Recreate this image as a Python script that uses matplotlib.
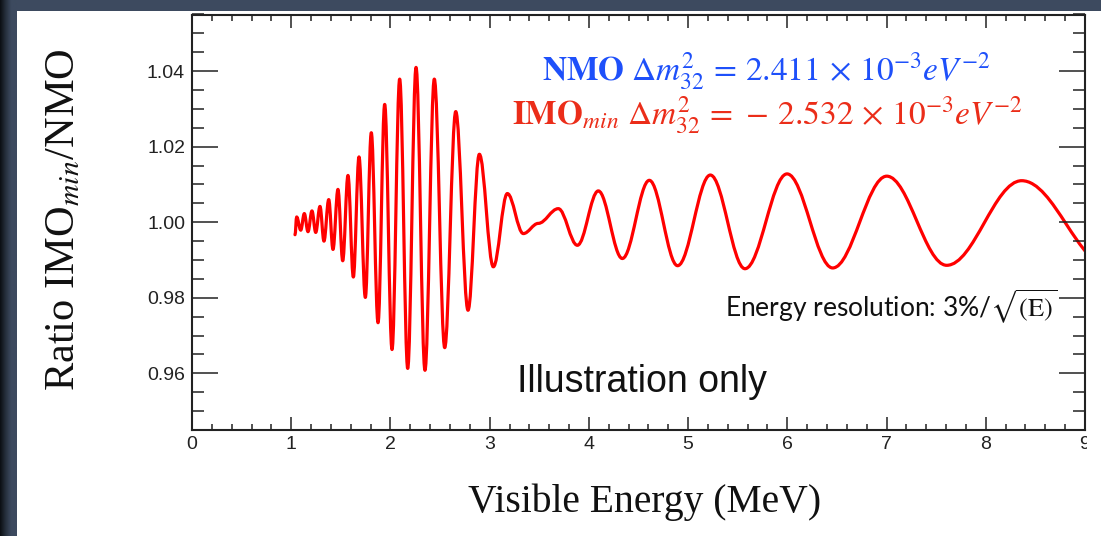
import numpy as np
import matplotlib.pyplot as plt
from matplotlib.path import Path
from matplotlib.patches import PathPatch, Rectangle
from matplotlib.ticker import MultipleLocator, FixedLocator
from matplotlib.colors import LinearSegmentedColormap
from matplotlib.transforms import Bbox, TransformedBbox

plt.rcParams['font.family'] = ['Liberation Sans', 'DejaVu Sans']
plt.rcParams['mathtext.fontset'] = 'stix'

# turning points of the ratio curve (MeV, ratio)
energy = [1.038, 1.055, 1.096, 1.132, 1.169, 1.209, 1.247, 1.290, 1.330, 1.378,
          1.421, 1.471, 1.519, 1.572, 1.626, 1.683, 1.747, 1.807, 1.875, 1.942,
          2.016, 2.093, 2.174, 2.258, 2.348, 2.442, 2.547, 2.658, 2.782, 2.896,
          3.037, 3.178, 3.339, 3.490, 3.692, 3.884, 4.095, 4.337, 4.609, 4.894,
          5.224, 5.573, 5.997, 6.457, 7.002, 7.606, 8.362, 9.260]
ratio = [0.9967, 1.0014, 0.9979, 1.0023, 0.9975, 1.0030, 0.9973, 1.0042, 0.9950, 1.0060,
         0.9928, 1.0087, 0.9898, 1.0124, 0.9855, 1.0173, 0.9801, 1.0237, 0.9734, 1.0312,
         0.9663, 1.0379, 0.9613, 1.0410, 0.9608, 1.0379, 0.9668, 1.0293, 0.9767, 1.0180,
         0.9882, 1.0076, 0.9970, 0.9997, 1.0036, 0.9939, 1.0083, 0.9904, 1.0111, 0.9885,
         1.0125, 0.9877, 1.0128, 0.9879, 1.0122, 0.9886, 1.0110, 0.9880]

x_ticks = [0, 1, 2, 3, 4, 5, 6, 7, 8, 9]
y_ticks = [0.96, 0.98, 1.00, 1.02, 1.04]
y_tick_labels = ['0.96', '0.98', '1.00', '1.02', '1.04']

W, H = 1101, 536
fig = plt.figure(figsize=(W / 100, H / 100), dpi=100)
fig.patch.set_facecolor('#3d4a5f')

# white slide area and dark left edge
fig.add_artist(Rectangle((17 / W, 0), 1 - 17 / W, 1 - 11 / H, transform=fig.transFigure,
                         facecolor='white', edgecolor='none', zorder=0))
gax = fig.add_axes([0, 0, 17 / W, 1])
edge_cmap = LinearSegmentedColormap.from_list('edge', ['#0b0e12', '#26303d', '#3d4a5f', '#3d4a5f'])
gax.imshow(np.linspace(0, 1, 64)[None, :], cmap=edge_cmap, aspect='auto')
gax.axis('off')

ax = fig.add_axes([192 / W, 1 - 430 / H, 893 / W, 415.5 / H])
ax.set_facecolor('none')

# smooth curve through the turning points (horizontal tangent at each one)
k = 0.364
verts = [(energy[0], ratio[0])]
codes = [Path.MOVETO]
for i in range(1, len(energy)):
    dx = energy[i] - energy[i - 1]
    verts += [(energy[i - 1] + k * dx, ratio[i - 1]), (energy[i] - k * dx, ratio[i]), (energy[i], ratio[i])]
    codes += [Path.CURVE4] * 3
ax.add_patch(PathPatch(Path(verts, codes), facecolor='none', edgecolor='#ff0000', lw=2.3,
                       capstyle='round', joinstyle='round'))

ax.set_xlim(0, 9)
ax.set_ylim(0.945, 1.055)
ax.xaxis.set_major_locator(FixedLocator(x_ticks))
ax.xaxis.set_minor_locator(MultipleLocator(0.2))
ax.set_yticks(y_ticks)
ax.set_yticklabels(y_tick_labels)
ax.yaxis.set_minor_locator(MultipleLocator(0.005))

ax.tick_params(which='both', direction='in', top=True, right=True, colors='#222222', width=1.1,
               labelsize=14)
ax.tick_params(axis='y', which='major', length=18.7, pad=5)
ax.tick_params(axis='y', which='minor', length=8.6)
ax.tick_params(axis='x', which='major', length=9.4, pad=4)
ax.tick_params(axis='x', which='minor', length=4.5)
for s in ax.spines.values():
    s.set_linewidth(1.5)
    s.set_color('#222222')

# the last x label is cut by the edge of the pasted picture
clip = TransformedBbox(Bbox([[0, 0], [1087 / W, 1]]), fig.transFigure)
for lab in ax.get_xticklabels():
    lab.set_clip_box(clip)
    lab.set_clip_on(True)

ax.text(0.392, 0.842,
        r'$\mathbf{NMO}\ \Delta m^{2}_{32}\,=\,2.411\,\times\,10^{-3}eV^{-2}$',
        transform=ax.transAxes, color='#1e50fa', fontsize=24, ha='left', va='baseline')
ax.text(0.358, 0.736,
        r'$\mathbf{IMO}_{min}\ \Delta m^{2}_{32}\,=\,-\,2.532\,\times\,10^{-3}eV^{-2}$',
        transform=ax.transAxes, color='#eb2d19', fontsize=24, ha='left', va='baseline')
ax.text(0.597, 0.272, r'Energy resolution: 3%/$\sqrt{(\mathrm{E})}$', transform=ax.transAxes,
        fontsize=19, family=['Lato', 'DejaVu Sans'], color='#111111', ha='left', va='baseline')
ax.text(0.364, 0.0915, 'Illustration only', transform=ax.transAxes, fontsize=27,
        color='#111111', ha='left', va='baseline')

fig.text(645 / W, 1 - 512 / H, 'Visible Energy (MeV)', family=['Liberation Serif'],
         fontsize=28.5, ha='center', va='baseline', color='#111111')
fig.text(64 / W, 1 - 220 / H, r'Ratio IMO$_{min}$/NMO', family=['Liberation Serif'],
         fontsize=30.5, rotation=90, ha='center', va='center', color='#111111')

fig.savefig('out.png', dpi=100, facecolor=fig.get_facecolor())
